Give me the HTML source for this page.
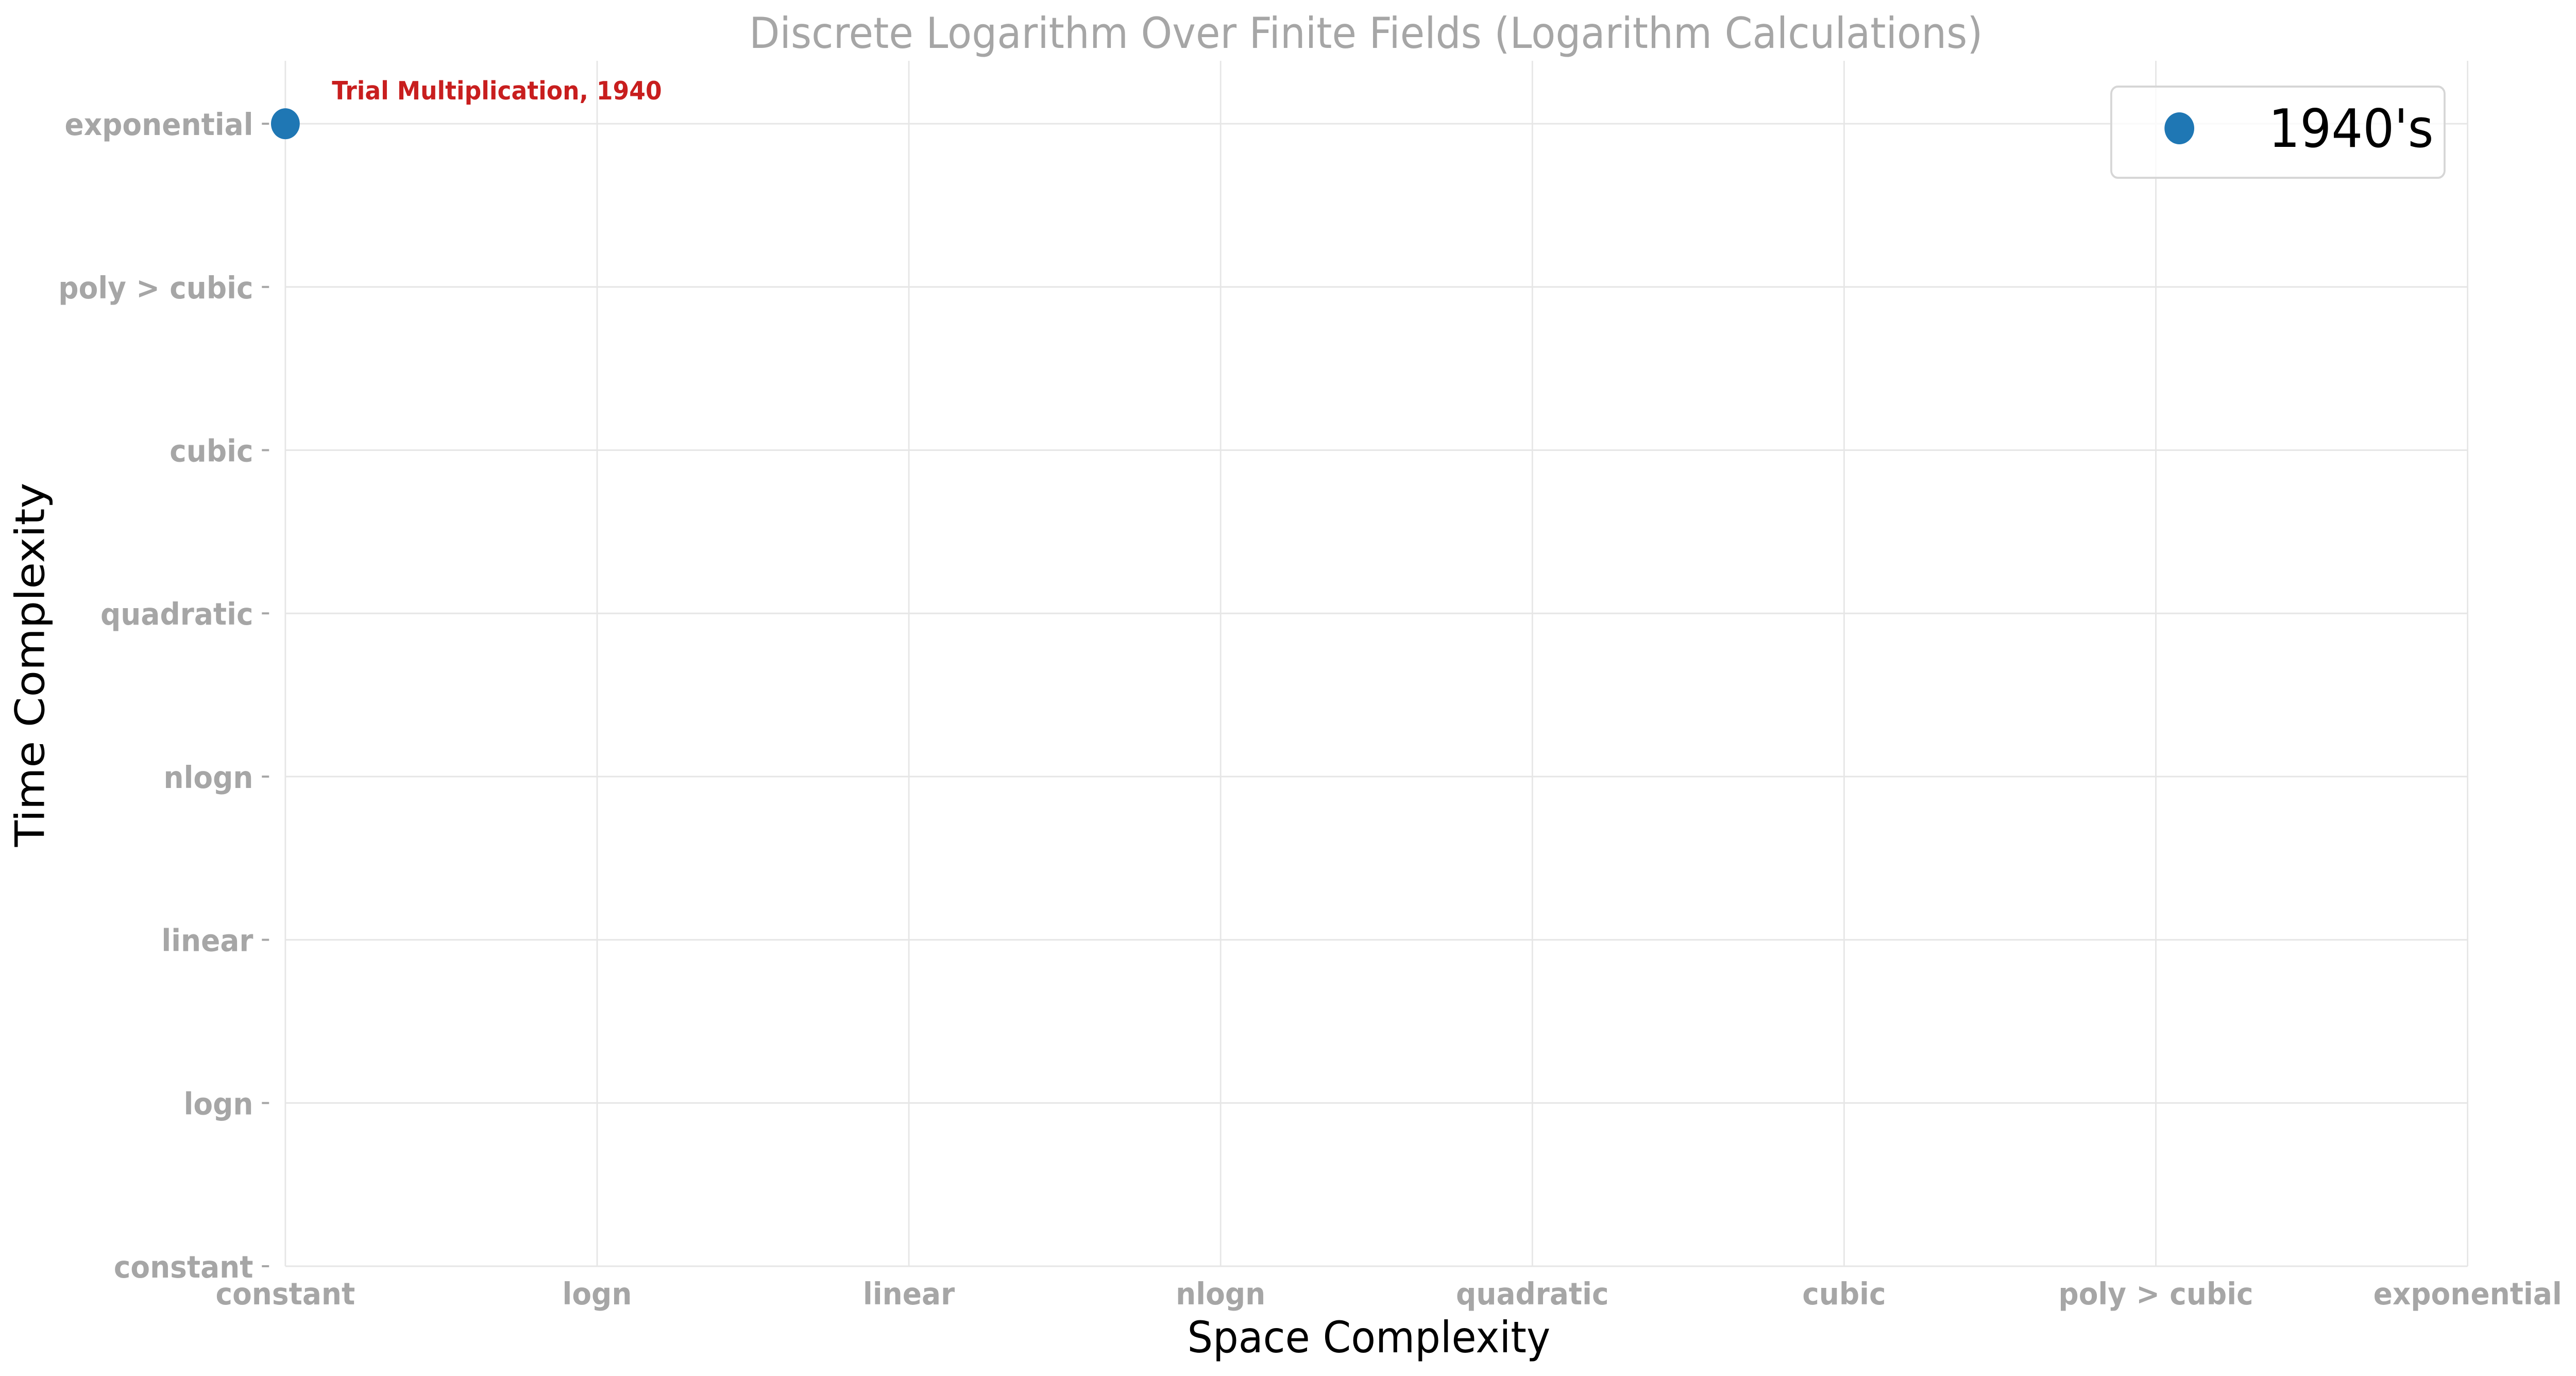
<!DOCTYPE html>
<html><head><meta charset="utf-8"><style>html,body{margin:0;padding:0;background:#fff;overflow:hidden;width:100%;height:100%}svg{display:block;width:100vw;height:100vh}</style></head>
<body>
<svg id="chart" viewBox="0 0 5371 2670" preserveAspectRatio="none" xmlns="http://www.w3.org/2000/svg" font-family="'DejaVu Sans','Liberation Sans',sans-serif">
<text x="2848" y="93" text-anchor="middle" font-size="83" fill="#a6a6a6" textLength="2572" lengthAdjust="spacingAndGlyphs">Discrete Logarithm Over Finite Fields (Logarithm Calculations)</text>
<g id="grid"></g>
<g id="xticks"></g>
<g id="yticks"></g>
<g id="points"></g>
<text x="2854" y="2624" text-anchor="middle" font-size="84" fill="#000">Space Complexity</text>
<text transform="translate(92,1290) rotate(-90)" text-anchor="middle" font-size="84" fill="#000">Time Complexity</text>
<g>
<rect x="4402" y="168" width="695" height="177" rx="14" fill="#fff" fill-opacity="0.8" stroke="#d6d6d6" stroke-width="4"/>
<circle cx="4544" cy="249" r="31" fill="#1f77b4"/>
<text x="4730" y="285" font-size="103" fill="#000">1940's</text>
</g>
</svg>
<script>
const categories = ["constant","logn","linear","nlogn","quadratic","cubic","poly > cubic","exponential"];
const pointX = [0];
const pointY = [7];
const pointLabels = ["Trial Multiplication, 1940"];
const NS="http://www.w3.org/2000/svg";
const X0=595, DX=650, YB=2457, DY=316.7, YTOP=118;
const xs=i=>X0+i*DX, ys=i=>YB-i*DY;
function mk(t,a,p){const e=document.createElementNS(NS,t);for(const k in a)e.setAttribute(k,a[k]);p.appendChild(e);return e;}
const gridG=document.getElementById('grid'),xtG=document.getElementById('xticks'),ytG=document.getElementById('yticks'),ptsG=document.getElementById('points');
categories.forEach((c,i)=>{
  const gv=mk('line',{x1:xs(i),x2:xs(i),y1:YTOP,y2:YB,stroke:'#e6e6e6','stroke-width':3},gridG);
  
  
  const gh=mk('line',{x1:X0,x2:xs(7),y1:ys(i),y2:ys(i),stroke:'#e6e6e6','stroke-width':3},gridG);
  
  
  const tx=mk('text',{x:xs(i),y:2531,'text-anchor':'middle','font-size':59,'font-weight':'bold',fill:'#a6a6a6'},xtG);
  tx.textContent=c;
  
  
  const tk=mk('line',{x1:546,x2:561,y1:ys(i),y2:ys(i),stroke:'#a6a6a6','stroke-width':4},ytG);
  
  
  const ty=mk('text',{x:528,y:ys(i)+22,'text-anchor':'end','font-size':59,'font-weight':'bold',fill:'#a6a6a6'},ytG);
  ty.textContent=c;
  
  
});
pointX.forEach((v,i)=>{
  const c=mk('circle',{cx:xs(v),cy:ys(pointY[i]),r:30,fill:'#1f77b4'},ptsG);
  
  
  const t=mk('text',{x:xs(v)+97,y:ys(pointY[i])-47,'font-size':49,'font-weight':'bold',fill:'#c81e1e'},ptsG);
  t.textContent=pointLabels[i];
  
  
});
</script>
</body></html>
